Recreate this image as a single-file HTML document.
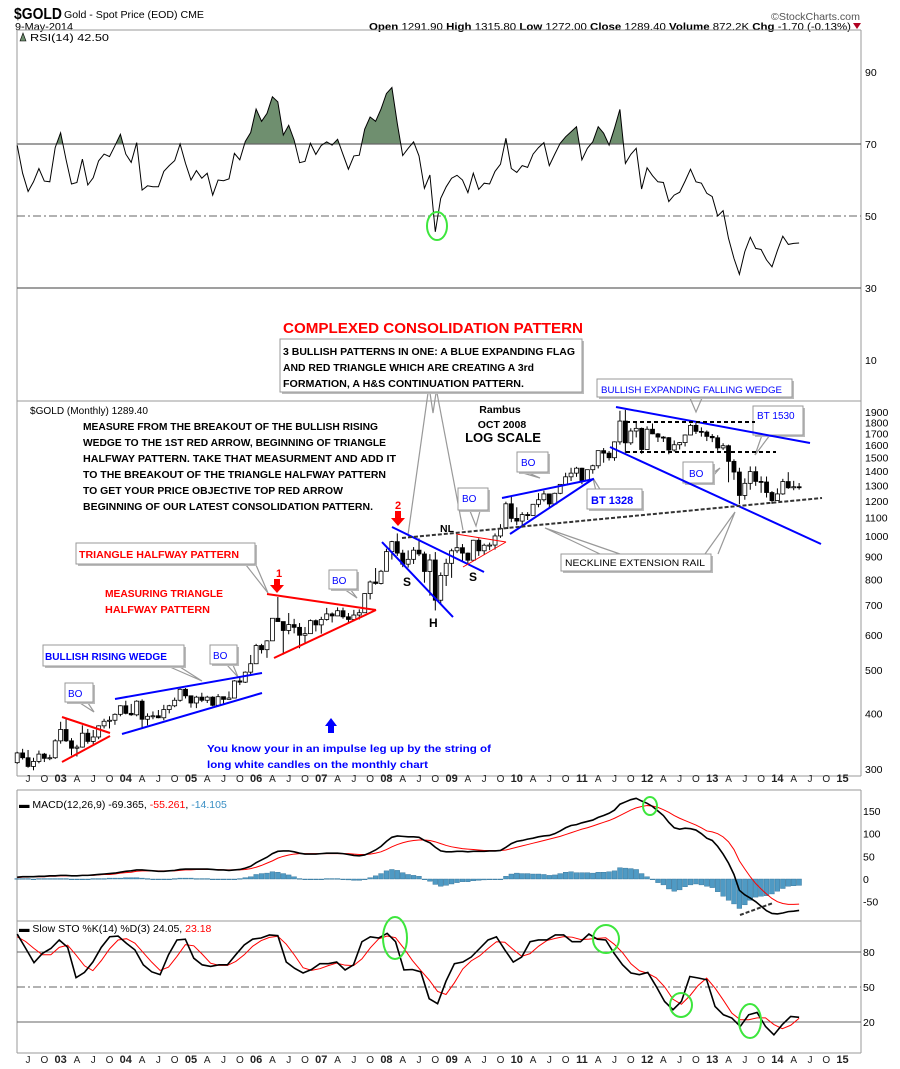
<!DOCTYPE html>
<html><head><meta charset="utf-8"><style>
html,body{margin:0;padding:0;background:#fff;}
svg{display:block;font-family:"Liberation Sans",sans-serif;}
</style></head><body>
<svg id="chart" width="900" height="1069" viewBox="0 0 900 1069" xmlns="http://www.w3.org/2000/svg">
<g id="static">
  <text x="14" y="19" font-size="16" font-weight="bold" textLength="48" lengthAdjust="spacingAndGlyphs">$GOLD</text>
  <text x="64" y="18" font-size="10.5" textLength="140" lengthAdjust="spacingAndGlyphs">Gold - Spot Price (EOD)  CME</text>
  <text x="15" y="30" font-size="10.5" textLength="58" lengthAdjust="spacingAndGlyphs">9-May-2014</text>
  <text x="771" y="20" font-size="10.5" fill="#555" textLength="89" lengthAdjust="spacingAndGlyphs">©StockCharts.com</text>
  <text x="369" y="30" font-size="10.5" textLength="482" lengthAdjust="spacingAndGlyphs"><tspan font-weight="bold">Open</tspan> 1291.90 <tspan font-weight="bold">High</tspan> 1315.80 <tspan font-weight="bold">Low</tspan> 1272.00 <tspan font-weight="bold">Close</tspan> 1289.40 <tspan font-weight="bold">Volume</tspan> 872.2K <tspan font-weight="bold">Chg</tspan> -1.70 (-0.13%)</text>
  <polygon points="853,23 861,23 857,29" fill="#b00020"/>
</g>
<g id="frames"></g>
<g id="rsi"></g>
<g id="price"></g>
<g id="macd"></g>
<g id="sto"></g>
<g id="notes"></g>
</svg>
<script>
// ---------- DATA (monthly, May 2002 .. May 2014) ----------
const startMonthLabel = "2002-05";
const closes = [326,318,304,312,324,317,318,347,
368,347,334,336,361,346,354,375,384,386,398,416,
400,397,426,388,394,395,391,408,416,428,453,438,
422,435,428,435,417,436,430,433,473,470,495,517,
568,556,582,654,643,614,633,624,599,604,646,632,
650,669,662,680,659,650,665,673,743,789,783,834,
923,972,916,865,887,930,912,833,884,718,816,869,
927,942,916,883,979,927,954,955,1001,1040,1182,1096,
1081,1118,1113,1179,1207,1244,1181,1248,1307,1359,1385,1421,
1333,1410,1439,1556,1536,1500,1628,1813,1620,1722,1746,1565,
1738,1697,1669,1664,1561,1604,1622,1687,1773,1719,1713,1675,
1663,1578,1596,1472,1393,1234,1314,1396,1327,1323,1253,1202,
1244,1326,1284,1291,1289];
const highs = [328,333,331,318,330,326,323,350,
383,389,352,340,376,369,367,376,389,394,400,417,
427,420,428,430,400,404,407,418,418,434,455,456,
428,438,445,438,437,442,430,448,475,482,497,541,
573,573,584,654,730,629,672,652,638,625,650,650,
659,690,674,692,691,672,683,685,744,795,848,840,
937,976,1014,932,929,945,988,923,911,921,829,890,
937,1007,960,919,981,989,962,967,1014,1064,1195,1227,
1161,1132,1132,1181,1249,1265,1244,1252,1307,1388,1424,1431,
1424,1411,1447,1557,1577,1553,1632,1912,1921,1747,1804,1753,
1764,1791,1705,1677,1669,1640,1627,1692,1788,1796,1755,1727,
1695,1685,1617,1605,1488,1424,1348,1434,1434,1362,1361,1262,
1280,1345,1392,1331,1316];
const lows = [308,315,302,298,309,311,314,316,
342,345,322,320,335,342,341,350,370,370,377,394,
398,395,394,371,376,388,390,386,400,413,425,432,
412,411,424,422,415,414,418,431,433,463,468,490,
516,545,533,587,643,542,602,605,560,575,604,611,
604,646,640,664,653,640,644,650,672,721,778,779,
834,886,903,852,850,866,902,786,735,681,705,773,
806,916,880,866,883,903,908,930,933,991,1044,1075,
1058,1045,1087,1112,1161,1196,1157,1178,1242,1315,1330,1359,
1308,1329,1381,1419,1462,1478,1477,1605,1534,1603,1666,1531,
1563,1694,1627,1627,1527,1547,1565,1590,1686,1696,1673,1635,
1626,1555,1562,1321,1338,1180,1207,1271,1297,1251,1221,1182,
1202,1238,1277,1268,1272];
const firstOpen = 310;
const rsiValues = [69.6,61.9,56.8,59.5,63.2,59.7,59.5,69,73.1,65.6,58.9,59.3,65.8,58.6,60.6,65.3,67.2,66.5,69.5,72.7,
67.2,64.9,70.4,57.2,58.4,58.1,58.1,62.4,64,65.4,70,64.6,60,62.6,60.5,61.9,55.8,60,59.8,60.3,
67.4,65.6,70.7,73.2,79.7,76.3,78.5,83.1,81.7,72.5,75.2,71.1,64.8,65.2,70.2,67.1,69.6,70.6,69.7,71.3,
67.1,63,66.7,66.9,74.1,77.5,76.3,79.7,84,85.7,75.7,66.8,68.8,70.6,66.7,57.7,61.4,45.6,54.9,58.1,
60.5,61.3,60,56.5,61.9,57.4,59.1,58.9,62.4,64.4,71.6,63.2,62.1,64,63.5,67.2,69,70.4,64,67.2,
70.2,72,73.4,74.8,65.6,68.8,70.6,74.8,73,69.7,74.4,79.6,64.6,67.1,68.8,57.5,63.4,61.2,59.5,59.3,
54,55.8,56.6,59.7,63,59.5,59.1,56.3,55.4,50,51.5,43.8,38.2,33.8,40.1,44.1,41,40.7,37.8,35.9,
40.4,44.4,42.1,42.4,42.5];
const rsiTicks = [90,70,50,30,10];
const macdLine = [4,5,5,5,6,6,7,7,
8,8,7,7,8,8,9,10,11,12,13,15,
17,18,20,20,19,18,17,17,18,19,21,22,
22,22,22,22,21,20,20,19,20,21,24,28,
36,42,48,56,61,62,62,60,57,55,55,55,
56,57,57,57,56,54,52,51,53,58,64,72,
83,92,95,94,93,93,92,85,80,70,62,60,
60,61,61,60,61,61,61,62,62,63,70,78,
83,85,88,90,93,95,96,100,106,113,118,120,
124,127,130,136,140,145,152,165,170,175,178,172,
167,160,150,140,125,113,110,112,111,108,100,90,
85,72,55,35,10,-25,-35,-42,-50,-60,-70,-76,
-77,-75,-72,-71,-69.4];
const macdSignal = [3,4,4,5,5,5,6,6,
7,7,7,7,8,8,8,9,10,10,11,13,
14,15,17,18,18,18,18,18,18,18,19,20,
20,21,21,21,21,21,20,20,20,20,21,23,
26,30,35,40,46,50,53,55,56,56,56,56,
56,56,56,56,56,56,55,54,54,55,57,60,
65,71,76,80,83,85,86,86,85,82,78,74,
71,69,67,66,65,64,63,63,63,63,64,67,
70,73,76,79,82,85,88,91,94,98,102,106,
110,113,117,121,125,129,134,140,146,152,157,160,
162,161,158,153,147,140,134,129,124,119,113,106,
104,100,93,82,65,40,22,5,-10,-22,-33,-43,
-50,-54,-56,-56,-55.3];
const macdTicks = [150,100,50,0,-50];
const stoK = [95.4,83.2,70.9,78.8,83,90.3,84,58,62.5,71.4,84,93.1,93.7,87.4,81.8,69,63,60.6,77.7,90.3,
91,74.7,69,67.6,69,69,77.7,86,91,92,94.6,94,71.4,66,62,65,70,70,71.4,64.6,
69,88.8,93,92,96,88.8,64.6,65,63,40,35.7,55,70,71.4,75.7,83,90.3,93,81.8,71.4,
75.7,88.8,90.3,90.3,94.6,94.6,88.8,88.8,95.4,91,90.3,78.8,69,62,60.6,62.5,50.5,37.6,30.5,37.6,
59,57.7,56.2,33.3,26.2,23.4,16.2,26.2,28.2,16.2,9,17.8,24.8,24.05];
const stoD = [93,89,83,77.6,77.6,84,85.8,77.4,68.2,64,72.6,82.8,90.3,91.4,87.6,79.4,71.3,64.2,67.1,76.2,
86.3,85.3,78.2,70.4,68.5,68.5,71.9,77.6,84.9,89.7,92.5,93.5,86.7,77.1,66.5,64.3,65.7,68.3,70.5,68.7,
68.3,74.1,83.6,91.3,93.7,92.3,83.1,72.8,64.2,56,46.2,43.6,53.6,65.5,72.4,76.7,83,88.8,88.4,82.1,
76.3,78.6,84.9,89.8,91.7,93.2,92.7,90.7,91,91.7,92.2,86.7,79.4,69.9,63.9,61.7,57.9,50.2,39.5,35.2,
42.4,51.4,57.6,49.1,38.6,27.6,21.9,21.9,23.5,23.5,17.8,14.3,17.2,23.18];
const stoTicks = [80,50,20];
const priceTicks = [1900,1800,1700,1600,1500,1400,1300,1200,1100,1000,900,800,700,600,500,400,300];
const yearLabels = ["03","04","05","06","07","08","09","10","11","12","13","14","15"];

// ---------- SCALES ----------
const L = 17, R = 861;
const NS = "http://www.w3.org/2000/svg";
function mx(i){ return 17.2 + i*5.43; }
function py(p){ return 412 + Math.log(1900/p)/Math.log(1900/300)*357; }
function ry(v){ return 144 + (70 - v)*3.6; }
function my(v){ return 879 - v*0.4533; }
function sy(v){ return 952 + (80 - v)*1.1667; }
function el(parent, tag, attrs, text){
  const e = document.createElementNS(NS, tag);
  for (const k in attrs) e.setAttribute(k, attrs[k]);
  if (text !== undefined) e.textContent = text;
  document.getElementById(parent).appendChild(e);
  return e;
}
// ---------- FRAMES ----------
(function(){
  const hs = [30, 401, 776, 790, 921, 1053];
  hs.forEach(y => {
    const e = el('frames','line',{x1:L,x2:R,y1:y,y2:y,stroke:'#9a9a9a','stroke-width':1});
    
    
  });
  [[30,401],[401,776],[790,921],[921,1053]].forEach(s => {
    [L,R].forEach(x => {
      const e = el('frames','line',{x1:x,x2:x,y1:s[0],y2:s[1],stroke:'#9a9a9a','stroke-width':1});
      
      
    });
  });
  // x axis labels
  [782, 1063].forEach(yy => {
    for (let k = 0; k < yearLabels.length; k++) {
      const jan = 8 + 12*k;
      const items = [[jan-6,'J'],[jan-3,'O'],[jan,yearLabels[k]],[jan+3,'A']];
      items.forEach(it => {
        const x = mx(it[0]);
        if (x < 20 || x > 855) return;
        const t = el('frames','text',{x:x,y:yy,'font-size':it[1].length>1?11:10,'font-weight':it[1].length>1?'bold':'normal','text-anchor':'middle',fill:'#222'}, it[1]);
        
        
      });
    }
  });
})();
// ---------- RSI ----------
(function(){
  const g='rsi';
  const y70 = ry(70);
  el(g,'clipPath',{id:'above70'}).appendChild(Object.assign(document.createElementNS(NS,'rect'),{}));
  const cp = document.getElementById('above70').firstChild;
  cp.setAttribute('x',L); cp.setAttribute('y',30); cp.setAttribute('width',R-L); cp.setAttribute('height',y70-30);
  let pts = rsiValues.map((v,i)=>mx(i).toFixed(1)+','+ry(v).toFixed(1));
  const fill = el(g,'polygon',{points: mx(0)+','+y70+' '+pts.join(' ')+' '+mx(rsiValues.length-1)+','+y70, fill:'#6f8f6f', 'clip-path':'url(#above70)'});
  
  
  rsiTicks.forEach(v=>{
    if (v===70 || v===30){
      const ln = el(g,'line',{x1:L,x2:R,y1:ry(v),y2:ry(v),stroke:'#666','stroke-width':1.2});
      
      
    } else if (v===50){
      const ln = el(g,'line',{x1:L,x2:R,y1:ry(v),y2:ry(v),stroke:'#666','stroke-width':1,'stroke-dasharray':'8,3,2,3'});
      
      
    }
    const t = el(g,'text',{x:865,y:ry(v)+4,'font-size':10.5}, String(v));
    
    
  });
  const line = el(g,'polyline',{points:pts.join(' '),fill:'none',stroke:'#000','stroke-width':1});
  
  
  const lg = el(g,'text',{x:30,y:41,'font-size':10.5,textLength:79,lengthAdjust:'spacingAndGlyphs'},'RSI(14) 42.50');
  
  
  const ic = el(g,'polygon',{points:'20,41 23,33 26,41',fill:'#6f8f6f',stroke:'#000','stroke-width':0.6});
  
  
})();
// ---------- PRICE ----------
(function(){
  const g='price';
  priceTicks.forEach(p=>{
    const t = el(g,'text',{x:865,y:py(p)+4,'font-size':10.5}, String(p));
    
    
  });
  closes.forEach((c,i)=>{
    const o = i===0 ? firstOpen : closes[i-1];
    const x = mx(i);
    const w = el(g,'line',{x1:x,x2:x,y1:py(highs[i]),y2:py(lows[i]),stroke:'#000','stroke-width':1});
    
    
    const top = py(Math.max(o,c)), bot = py(Math.min(o,c));
    const b = el(g,'rect',{x:x-2,y:top,width:4,height:Math.max(1,bot-top),fill:c>=o?'#fff':'#000',stroke:'#000','stroke-width':0.8});
    
    
  });
  const lg = el(g,'text',{x:30,y:414,'font-size':10.5,textLength:118,lengthAdjust:'spacingAndGlyphs'},'$GOLD (Monthly) 1289.40');
  
  
})();
// ---------- MACD ----------
(function(){
  const g='macd';
  macdTicks.forEach(v=>{
    const t = el(g,'text',{x:863,y:my(v)+4,'font-size':10.5}, String(v));
    
    
  });
  macdLine.forEach((v,i)=>{
    const h = v - macdSignal[i];
    const y0 = my(0), y1 = my(h);
    const b = el(g,'rect',{x:mx(i)-2.4,y:Math.min(y0,y1),width:4.8,height:Math.max(0.8,Math.abs(y1-y0)),fill:'#4f9ac4',stroke:'#2f6f95','stroke-width':0.4});
    
    
  });
  const s = el(g,'polyline',{points:macdSignal.map((v,i)=>mx(i)+','+my(v)).join(' '),fill:'none',stroke:'#f00','stroke-width':1});
  
  
  const m = el(g,'polyline',{points:macdLine.map((v,i)=>mx(i)+','+my(v)).join(' '),fill:'none',stroke:'#000','stroke-width':1.6});
  
  
  const lg = el(g,'text',{x:19,y:808,'font-size':10.5});
  lg.innerHTML = '<tspan font-weight="bold">▬</tspan> MACD(12,26,9) -69.365, <tspan fill="#f00">-55.261</tspan>, <tspan fill="#3a8fc4">-14.105</tspan>';
  
  
})();
// ---------- STO ----------
(function(){
  const g='sto';
  stoTicks.forEach(v=>{
    const ln = el(g,'line',{x1:L,x2:R,y1:sy(v),y2:sy(v),stroke:'#666','stroke-width':1,'stroke-dasharray':v===50?'8,3,2,3':'none'});
    
    
    const t = el(g,'text',{x:863,y:sy(v)+4,'font-size':10.5}, String(v));
    
    
  });
  const sx = i => mx(0) + i*(mx(closes.length-1)-mx(0))/(stoK.length-1);
  const d = el(g,'polyline',{points:stoD.map((v,i)=>sx(i)+','+sy(v)).join(' '),fill:'none',stroke:'#f00','stroke-width':1});
  
  
  const k = el(g,'polyline',{points:stoK.map((v,i)=>sx(i)+','+sy(v)).join(' '),fill:'none',stroke:'#000','stroke-width':1.6});
  
  
  const lg = el(g,'text',{x:19,y:932,'font-size':10.5});
  lg.innerHTML = '<tspan font-weight="bold">▬</tspan> Slow STO %K(14) %D(3) 24.05, <tspan fill="#f00">23.18</tspan>';
  
  
})();
</script>
<script>
// ---------- ANNOTATIONS ----------
(function(){
  const g = document.getElementById('notes');
  function add(html){ g.insertAdjacentHTML('beforeend', html); }
  function box(x,y,w,h,name){
    add(`<rect x="${x+2}" y="${y+2}" width="${w}" height="${h}" fill="#bbb"/>`);
    add(`<rect x="${x}" y="${y}" width="${w}" height="${h}" fill="#fff" stroke="#999"/>`);
  }
  // callout pointer lines
  add(`<g stroke="#999" stroke-width="1.2" fill="none">
    <polyline points="428,393 408,535"/><polyline points="430,393 433,413 436,393"/><polyline points="437,393 463,530"/>
    <polyline points="690,398 696,412 702,398"/>
    <polyline points="762,435 755,455 770,435"/>
    <polyline points="600,509 593,478 612,509"/>
    <polyline points="523,473 540,478 529,473"/><polyline points="697,484 720,468 706,484"/>
    <polyline points="470,511 476,526 480,511"/>
    <polyline points="344,589 357,598 350,589"/><polyline points="227,665 238,677 233,665"/>
    <polyline points="80,703 94,712 88,703"/>
    <polyline points="246,565 268,593 256,565"/>
    <polyline points="170,667 202,681 180,667"/>
    <polyline points="600,554 545,528 620,554"/><polyline points="705,554 735,512 718,554"/>
  </g>`);
  add(`<text x="283" y="333" font-size="14.5" font-weight="bold" fill="#f00" textLength="300" lengthAdjust="spacingAndGlyphs">COMPLEXED CONSOLIDATION PATTERN</text>`);
  box(280,339,302,53,'three-patterns-box');
  add(`<g font-size="10" font-weight="bold">
    <text x="283" y="355" textLength="292" lengthAdjust="spacingAndGlyphs">3 BULLISH PATTERNS IN ONE:  A BLUE EXPANDING FLAG</text>
    <text x="283" y="371" textLength="251" lengthAdjust="spacingAndGlyphs">AND RED TRIANGLE WHICH ARE CREATING A 3rd</text>
    <text x="283" y="387" textLength="241" lengthAdjust="spacingAndGlyphs">FORMATION, A H&amp;S CONTINUATION PATTERN.</text></g>`);
  add(`<g font-size="10" font-weight="bold">
    <text x="83" y="430" textLength="295" lengthAdjust="spacingAndGlyphs">MEASURE FROM THE BREAKOUT OF THE BULLISH RISING</text>
    <text x="83" y="446" textLength="303" lengthAdjust="spacingAndGlyphs">WEDGE TO THE 1ST RED ARROW, BEGINNING OF TRIANGLE</text>
    <text x="83" y="462" textLength="313" lengthAdjust="spacingAndGlyphs">HALFWAY PATTERN. TAKE THAT MEASURMENT AND ADD IT</text>
    <text x="83" y="478" textLength="303" lengthAdjust="spacingAndGlyphs">TO THE BREAKOUT OF THE TRIANGLE HALFWAY PATTERN</text>
    <text x="83" y="494" textLength="260" lengthAdjust="spacingAndGlyphs">TO GET YOUR PRICE OBJECTIVE TOP RED ARROW</text>
    <text x="83" y="510" textLength="290" lengthAdjust="spacingAndGlyphs">BEGINNING OF OUR LATEST CONSOLIDATION PATTERN.</text></g>`);
  add(`<g font-weight="bold" text-anchor="middle">
    <text x="500" y="413" font-size="10.5">Rambus</text><text x="502" y="428" font-size="10.5">OCT 2008</text><text x="503" y="442" font-size="13">LOG SCALE</text></g>`);
  box(597,379,195,18,'falling-wedge-box');
  add(`<text x="601" y="393" font-size="9.5" fill="#00f" textLength="181" lengthAdjust="spacingAndGlyphs">BULLISH EXPANDING FALLING WEDGE</text>`);
  box(753,406,50,29,'bt1530-box');
  add(`<text x="757" y="419" font-size="10" fill="#00f">BT 1530</text>`);
  box(517,452,31,20,'bo-box');  add(`<text x="521" y="466" font-size="10" fill="#00f">BO</text>`);
  box(683,462,30,21,'bo-box');  add(`<text x="689" y="477" font-size="10" fill="#00f">BO</text>`);
  box(458,488,30,22,'bo-box');  add(`<text x="462" y="502" font-size="10" fill="#00f">BO</text>`);
  box(329,570,28,19,'bo-box');  add(`<text x="332" y="584" font-size="10" fill="#00f">BO</text>`);
  box(210,645,27,19,'bo-box');  add(`<text x="213" y="659" font-size="10" fill="#00f">BO</text>`);
  box(65,683,28,19,'bo-box');  add(`<text x="68" y="697" font-size="10" fill="#00f">BO</text>`);
  box(587,489,55,20,'bt1328-box');
  add(`<text x="591" y="504" font-size="11" font-weight="bold" fill="#00f">BT 1328</text>`);
  box(561,554,150,17,'neckline-box');
  add(`<text x="565" y="566" font-size="9.5" textLength="140" lengthAdjust="spacingAndGlyphs">NECKLINE EXTENSION RAIL</text>`);
  box(76,543,179,21,'triangle-halfway-box');
  add(`<text x="79" y="558" font-size="10" font-weight="bold" fill="#f00" textLength="160" lengthAdjust="spacingAndGlyphs">TRIANGLE HALFWAY PATTERN</text>`);
  add(`<g font-size="10" font-weight="bold" fill="#f00"><text x="105" y="597" textLength="118" lengthAdjust="spacingAndGlyphs">MEASURING TRIANGLE</text><text x="105" y="613" textLength="105" lengthAdjust="spacingAndGlyphs">HALFWAY PATTERN</text></g>`);
  box(43,645,141,21,'rising-wedge-box');
  add(`<text x="45" y="660" font-size="10" font-weight="bold" fill="#00f" textLength="122" lengthAdjust="spacingAndGlyphs">BULLISH RISING WEDGE</text>`);
  add(`<g font-size="10.5" font-weight="bold" fill="#00f"><text x="207" y="752" textLength="284" lengthAdjust="spacingAndGlyphs">You know your in an impulse leg up by the string of</text><text x="207" y="768" textLength="221" lengthAdjust="spacingAndGlyphs">long white candles on the monthly chart</text></g>`);
  add(`<g font-weight="bold" font-size="12"><text x="403" y="586">S</text><text x="469" y="581">S</text><text x="429" y="627">H</text><text x="440" y="532" font-size="10.5">NL</text></g>`);
  // arrows
  add(`<g fill="#f00"><text x="276" y="577" font-size="11" font-weight="bold">1</text><rect x="274" y="579" width="6" height="7"/><polygon points="270,585 284,585 277,593"/></g>`);
  add(`<g fill="#f00"><text x="395" y="509" font-size="11" font-weight="bold">2</text><rect x="395" y="511" width="6" height="8"/><polygon points="391,518 405,518 398,526"/></g>`);
  add(`<g fill="#00f"><polygon points="325,726 331,718 337,726"/><rect x="328" y="726" width="6" height="7"/></g>`);
  // pattern lines
  add(`<g stroke-width="2" fill="none">
    <line x1="62" y1="717" x2="110" y2="733" stroke="#f00"/><line x1="62" y1="762" x2="110" y2="736" stroke="#f00"/>
    <line x1="115" y1="699" x2="262" y2="673" stroke="#00f"/><line x1="122" y1="734" x2="262" y2="693" stroke="#00f"/>
    <line x1="267" y1="594" x2="376" y2="610" stroke="#f00"/><line x1="274" y1="658" x2="376" y2="610" stroke="#f00"/>
    <line x1="392" y1="527" x2="484" y2="572" stroke="#00f"/><line x1="382" y1="542" x2="453" y2="617" stroke="#00f"/>
    <line x1="456" y1="534" x2="506" y2="542" stroke="#f00" stroke-width="1"/><line x1="463" y1="567" x2="506" y2="542" stroke="#f00" stroke-width="1"/>
    <line x1="502" y1="498" x2="594" y2="479" stroke="#00f"/><line x1="510" y1="534" x2="593" y2="479" stroke="#00f"/>
    <line x1="616" y1="407" x2="810" y2="443" stroke="#00f"/><line x1="610" y1="447" x2="821" y2="544" stroke="#00f"/>
    <line x1="402" y1="538" x2="822" y2="498" stroke="#333" stroke-dasharray="4,2"/>
    <line x1="626" y1="422" x2="755" y2="422" stroke="#000" stroke-dasharray="4,3"/>
    <line x1="626" y1="452" x2="776" y2="452" stroke="#000" stroke-dasharray="4,3"/>
    <line x1="740" y1="915" x2="773" y2="903" stroke="#333" stroke-dasharray="4,2"/>
  </g>`);
  add(`<g fill="none" stroke="#3de63d" stroke-width="2">
    <ellipse cx="437" cy="226" rx="10" ry="14"/><ellipse cx="650" cy="806" rx="7" ry="9"/>
    <ellipse cx="395" cy="938" rx="12" ry="21"/><ellipse cx="606" cy="939" rx="13" ry="14"/>
    <ellipse cx="681" cy="1005" rx="11" ry="12"/><ellipse cx="750" cy="1021" rx="11" ry="17"/></g>`);
})();
</script>
</body></html>
